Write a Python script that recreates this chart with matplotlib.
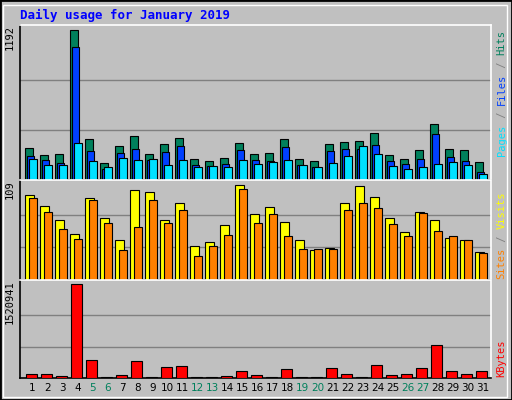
import matplotlib
matplotlib.use("Agg")
from matplotlib import pyplot as plt
from matplotlib.patches import Rectangle
import numpy as np

days = list(range(1, 32))
weekends = [5, 6, 12, 13, 19, 20, 26, 27]

hits = [254, 197, 205, 1192, 326, 132, 270, 351, 205, 286, 334, 165, 148, 173, 294, 205,
        213, 326, 165, 148, 286, 302, 310, 375, 197, 165, 237, 440, 245, 237, 140]
files = [189, 156, 132, 1055, 229, 84, 213, 245, 156, 221, 270, 116, 108, 124, 237, 156,
         148, 262, 116, 100, 229, 245, 245, 278, 148, 124, 165, 367, 181, 148, 67]
pages = [165, 116, 116, 294, 148, 100, 173, 156, 165, 116, 156, 100, 108, 100, 156, 124,
         140, 156, 116, 100, 132, 189, 270, 205, 108, 84, 100, 124, 140, 116, 51]
visits = [94, 82, 67, 51, 91, 69, 44, 100, 98, 67, 86, 38, 42, 61, 106, 73,
          81, 65, 44, 33, 36, 86, 105, 92, 69, 53, 76, 67, 47, 44, 31]
sites = [91, 76, 57, 46, 89, 63, 33, 59, 89, 63, 78, 27, 38, 50, 101, 63,
         73, 49, 35, 34, 35, 78, 86, 80, 62, 49, 74, 54, 49, 45, 30]
kbytes = [72000, 72000, 39000, 1520941, 289000, 11000, 56000, 272000, 11000, 172000, 189000,
          11000, 11000, 39000, 105000, 56000, 11000, 139000, 11000, 11000, 155000, 72000,
          11000, 205000, 56000, 72000, 155000, 538000, 105000, 72000, 105000]

W, H = 512, 400
BG = "#C0C0C0"
GREEN = "#00805C"
mono = "DejaVu Sans Mono"
X0 = 1 - 5 / 15

fig = plt.figure(figsize=(W / 100, H / 100), dpi=100, facecolor=BG)

# outer frame
fig.patches.append(Rectangle((0, 0), 1, 1, transform=fig.transFigure, fill=False,
                             edgecolor="black", linewidth=2))
fig.patches.append(Rectangle((3 / W, 3 / H), 1 - 8 / W, 1 - 8 / H, transform=fig.transFigure,
                             fill=False, edgecolor="white", linewidth=1))

fig.text(20 / W, 1 - 15 / H, "Daily usage for January 2019", color="#0000FF",
         family=mono, fontweight="bold", fontsize=9, va="center")


def panel(y0, y1):
    ax = fig.add_axes([20 / W, 1 - y1 / H, 471 / W, (y1 - y0) / H])
    ax.set_facecolor(BG)
    ax.set_xlim(X0, X0 + 471 / 15)
    ax.set_xticks([])
    ax.set_yticks([])
    for s in ["left", "bottom"]:
        ax.spines[s].set_color("black")
    for s in ["right", "top"]:
        ax.spines[s].set_color("white")
    for sp in ax.spines.values():
        sp.set_linewidth(1.2)
    return ax


def bars(ax, vals, offset, width, color):
    x = np.array(days) + offset
    ax.bar(x, vals, width=width, align="edge", color=color, edgecolor="black",
           linewidth=0.8, zorder=3)


def side_label(ax, parts, top=False):
    # parts listed bottom to top
    step = 6.3 / ax.bbox.height
    if top:
        y = 0.97 - sum(len(t) for t, _ in parts) * step
    else:
        y = 0.01
    for txt, col in parts:
        ax.text(1.012, y, txt, transform=ax.transAxes, rotation=90, color=col,
                family=mono, fontsize=7.5, va="bottom", ha="left")
        y += len(txt) * step


# top panel
ax1 = panel(25, 180)
top1 = 1192
ax1.set_ylim(0, top1 * 1.03)
for g in (1 / 3, 2 / 3):
    ax1.axhline(top1 * g, color="#808080", linewidth=1, zorder=1)
bars(ax1, hits, 0.0, 0.5, GREEN)
bars(ax1, files, 0.133, 0.5, "#0040FF")
bars(ax1, pages, 0.267, 0.5, "#00E0FF")
ax1.text(-0.012, 1.0, "1192", transform=ax1.transAxes, rotation=90, ha="right", va="top",
         family=mono, fontsize=7.5)
side_label(ax1, [("Pages", "#00E0FF"), (" / ", "#808080"), ("Files", "#0040FF"),
                 (" / ", "#808080"), ("Hits", GREEN)], top=True)

# middle panel
ax2 = panel(180, 280)
top2 = 109
ax2.set_ylim(0, top2 * 1.02)
for g in (1 / 3, 2 / 3):
    ax2.axhline(top2 * g, color="#808080", linewidth=1, zorder=1)
bars(ax2, visits, 0.0, 0.58, "#FFFF00")
bars(ax2, sites, 0.267, 0.53, "#FF8000")
ax2.text(-0.012, 1.0, "109", transform=ax2.transAxes, rotation=90, ha="right", va="top",
         family=mono, fontsize=7.5)
side_label(ax2, [("Sites", "#FF8000"), (" / ", "#808080"), ("Visits", "#FFFF00")])

# bottom panel
ax3 = panel(280, 378)
top3 = 1520941
ax3.set_ylim(0, top3 * 1.04)
for g in (1 / 3, 2 / 3):
    ax3.axhline(top3 * g, color="#808080", linewidth=1, zorder=1)
bars(ax3, kbytes, 0.067, 0.73, "#FF0000")
ax3.text(-0.012, 1.0, "1520941", transform=ax3.transAxes, rotation=90, ha="right", va="top",
         family=mono, fontsize=7.5)
side_label(ax3, [("KBytes", "#FF0000")])
for d in days:
    ax3.text(d + 0.5, -0.1, str(d), transform=ax3.get_xaxis_transform(), ha="center",
             va="center", fontsize=7.5, family="DejaVu Sans",
             color=GREEN if d in weekends else "black")

fig.savefig("out.png", dpi=100, facecolor=BG)
